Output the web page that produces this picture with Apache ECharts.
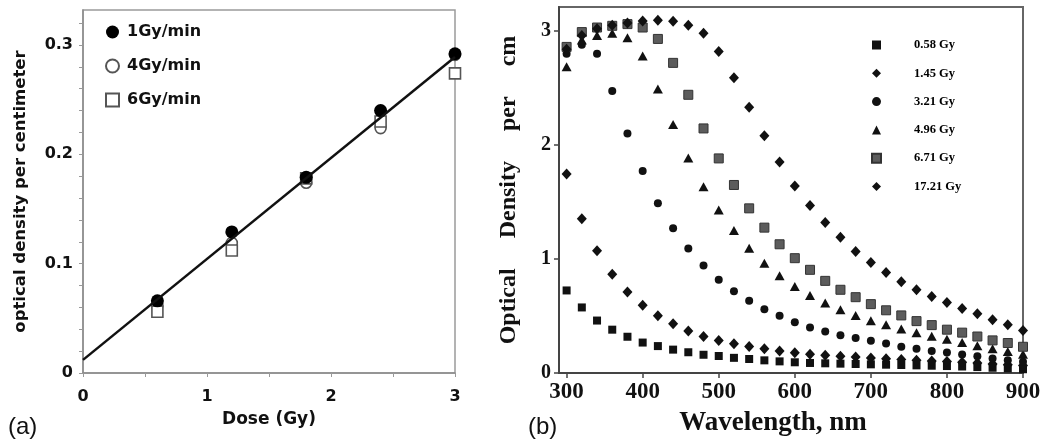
<!DOCTYPE html>
<html>
<head>
<meta charset="utf-8">
<script src="https://cdn.jsdelivr.net/npm/echarts@6/dist/echarts.min.js"></script>
<style>
html,body{margin:0;padding:0;background:#fff;}
#c{width:1050px;height:445px;}
</style>
</head>
<body>
<div id="c"></div>
<script>
// ---------- Panel (a) data ----------
const doseA = [0.6, 1.2, 1.8, 2.4, 3.0];
const od1Gy = [0.066, 0.129, 0.179, 0.240, 0.292];
const od4Gy = [0.062, 0.119, 0.174, 0.224, 0.291];
const od6Gy = [0.056, 0.112, 0.178, 0.230, 0.274];
const fitDose = [0, 3];
const fitOD = [0.012, 0.289];
const namesA = ['1Gy/min', '4Gy/min', '6Gy/min'];
const xTicksA = [0, 1, 2, 3];
const xMinorA = [0, 0.5, 1, 1.5, 2, 2.5, 3];
const yTicksA = [0, 0.1, 0.2, 0.3];
const yMinorA = [0, 0.02, 0.04, 0.06, 0.08, 0.1, 0.12, 0.14, 0.16, 0.18, 0.2, 0.22, 0.24, 0.26, 0.28, 0.3, 0.32];

// ---------- Panel (b) data ----------
const wavelength = [300, 320, 340, 360, 380, 400, 420, 440, 460, 480, 500, 520, 540, 560, 580, 600,
  620, 640, 660, 680, 700, 720, 740, 760, 780, 800, 820, 840, 860, 880, 900];
const g058 = [0.724, 0.575, 0.460, 0.380, 0.318, 0.267, 0.236, 0.205, 0.182, 0.160, 0.149, 0.133, 0.123, 0.111, 0.102, 0.094,
  0.088, 0.085, 0.082, 0.079, 0.076, 0.073, 0.070, 0.067, 0.064, 0.061, 0.057, 0.052, 0.046, 0.040, 0.033];
const g145 = [1.745, 1.352, 1.073, 0.865, 0.710, 0.595, 0.502, 0.431, 0.368, 0.321, 0.286, 0.256, 0.233, 0.212, 0.193, 0.178,
  0.165, 0.155, 0.147, 0.140, 0.132, 0.125, 0.118, 0.112, 0.106, 0.100, 0.094, 0.088, 0.080, 0.072, 0.065];
const g321 = [2.80, 2.88, 2.80, 2.474, 2.10, 1.771, 1.488, 1.269, 1.091, 0.943, 0.817, 0.718, 0.633, 0.560, 0.502, 0.446,
  0.400, 0.365, 0.330, 0.306, 0.283, 0.258, 0.230, 0.212, 0.194, 0.180, 0.162, 0.146, 0.128, 0.112, 0.098];
const g496 = [2.685, 2.92, 2.96, 2.98, 2.94, 2.78, 2.49, 2.18, 1.885, 1.634, 1.43, 1.249, 1.094, 0.963, 0.852, 0.759,
  0.680, 0.613, 0.554, 0.505, 0.458, 0.423, 0.385, 0.352, 0.322, 0.296, 0.268, 0.240, 0.213, 0.188, 0.165];
const g671 = [2.86, 2.99, 3.03, 3.045, 3.06, 3.03, 2.93, 2.72, 2.44, 2.145, 1.882, 1.649, 1.444, 1.275, 1.129, 1.007,
  0.905, 0.808, 0.730, 0.665, 0.604, 0.550, 0.505, 0.455, 0.420, 0.380, 0.354, 0.320, 0.286, 0.263, 0.230];
const g1721 = [2.84, 2.96, 3.02, 3.05, 3.07, 3.087, 3.093, 3.084, 3.05, 2.98, 2.82, 2.59, 2.33, 2.08, 1.85, 1.64,
  1.47, 1.32, 1.19, 1.065, 0.969, 0.881, 0.800, 0.730, 0.672, 0.618, 0.565, 0.520, 0.467, 0.424, 0.373];
const namesB = ['0.58 Gy', '1.45 Gy', '3.21 Gy', '4.96 Gy', '6.71 Gy', '17.21 Gy'];
const xTicksB = [300, 400, 500, 600, 700, 800, 900];
const yTicksB = [0, 1, 2, 3];

function zip(xs, ys) { return xs.map((x, i) => [x, ys[i]]); }

const sansA = 'DejaVu Sans';
const serifB = 'Liberation Serif';

const chart = echarts.init(document.getElementById('c'), null, {renderer: 'canvas'});

const axisCommonA = {
  axisLine: {show: true, lineStyle: {color: '#8c8c8c', width: 1.5}},
  splitLine: {show: false},
  axisLabel: {fontFamily: sansA, fontWeight: 'bold', fontSize: 16, color: '#111'},
  nameTextStyle: {fontFamily: sansA, fontWeight: 'bold', color: '#111'}
};
const axisCommonB = {
  axisLine: {show: true, lineStyle: {color: '#444', width: 2}},
  splitLine: {show: false},
  axisLabel: {fontFamily: serifB, fontWeight: 'bold', color: '#111'},
  nameTextStyle: {fontFamily: serifB, fontWeight: 'bold', color: '#111'}
};

const symBlack = {color: '#111', opacity: 1};

const option = {
  animation: false,
  backgroundColor: '#fff',
  grid: [
    {left: 83, top: 10, width: 372, height: 363, show: true, borderColor: '#9a9a9a', borderWidth: 1.5},
    {left: 559, top: 7, width: 464, height: 366, show: true, borderColor: '#666', borderWidth: 2}
  ],
  xAxis: [
    {
      type: 'value', gridIndex: 0, min: 0, max: 3,
      axisLine: axisCommonA.axisLine, splitLine: axisCommonA.splitLine,
      axisTick: {show: true, length: 4, customValues: xMinorA, lineStyle: {color: '#999'}},
      axisLabel: Object.assign({}, axisCommonA.axisLabel, {customValues: xTicksA, margin: 16}),
      name: 'Dose (Gy)', nameLocation: 'middle', nameGap: 38,
      nameTextStyle: Object.assign({}, axisCommonA.nameTextStyle, {fontSize: 17})
    },
    {
      type: 'value', gridIndex: 1, min: 290, max: 900,
      axisLine: axisCommonB.axisLine, splitLine: axisCommonB.splitLine,
      axisTick: {show: true, length: 5, customValues: xTicksB, lineStyle: {color: '#444', width: 1.5}},
      axisLabel: Object.assign({}, axisCommonB.axisLabel, {customValues: xTicksB, fontSize: 23, margin: 8})
    }
  ],
  yAxis: [
    {
      type: 'value', gridIndex: 0, min: 0, max: 0.332,
      axisLine: axisCommonA.axisLine, splitLine: axisCommonA.splitLine,
      axisTick: {show: true, length: 4, customValues: yMinorA, lineStyle: {color: '#999'}},
      axisLabel: Object.assign({}, axisCommonA.axisLabel, {customValues: yTicksA, margin: 10}),
      name: 'optical density per centimeter', nameLocation: 'middle', nameGap: 54,
      nameTextStyle: Object.assign({}, axisCommonA.nameTextStyle, {fontSize: 16.5})
    },
    {
      type: 'value', gridIndex: 1, min: 0, max: 3.21,
      axisLine: axisCommonB.axisLine, splitLine: axisCommonB.splitLine,
      axisTick: {show: true, length: 5, customValues: yTicksB, lineStyle: {color: '#444', width: 1.5}},
      axisLabel: Object.assign({}, axisCommonB.axisLabel, {customValues: yTicksB, fontSize: 20, margin: 8}),
      name: 'Optical     Density     per     cm', nameLocation: 'middle', nameGap: 38,
      nameTextStyle: Object.assign({}, axisCommonB.nameTextStyle, {fontSize: 24})
    }
  ],
  legend: [
    {
      data: namesA, orient: 'vertical', left: 100, top: 18,
      itemWidth: 13, itemHeight: 13, itemGap: 16,
      textStyle: {fontFamily: sansA, fontWeight: 'bold', fontSize: 16, color: '#111', lineHeight: 18, padding: [0, 0, 0, 3]},
      selectedMode: false
    },
    {
      data: namesB, orient: 'vertical', left: 866, top: 33,
      itemWidth: 9, itemHeight: 9, itemGap: 14.3,
      textStyle: {fontFamily: serifB, fontWeight: 'bold', fontSize: 12.5, color: '#000', lineHeight: 14, padding: [0, 0, 0, 28]},
      selectedMode: false
    }
  ],
  graphic: [
    {type: 'text', left: 8, top: 415, style: {text: '(a)', font: '24px "Liberation Sans"', fill: '#111'}},
    {type: 'text', left: 528, top: 415, style: {text: '(b)', font: '24px "Liberation Sans"', fill: '#111'}},
    {type: 'text', x: 773, y: 423, style: {text: 'Wavelength, nm', font: 'bold 27px "Liberation Serif"', fill: '#111', align: 'center', verticalAlign: 'middle'}}
  ],
  series: [
    {
      name: '4Gy/min', type: 'scatter', xAxisIndex: 0, yAxisIndex: 0,
      symbol: 'circle', symbolSize: 11, data: zip(doseA, od4Gy),
      itemStyle: {color: '#fff', borderColor: '#555', borderWidth: 1.6, opacity: 1}
    },
    {
      name: '6Gy/min', type: 'scatter', xAxisIndex: 0, yAxisIndex: 0,
      symbol: 'rect', symbolSize: 11, data: zip(doseA, od6Gy),
      itemStyle: {color: '#fff', borderColor: '#555', borderWidth: 1.6, opacity: 1}
    },
    {
      name: 'fit', type: 'line', xAxisIndex: 0, yAxisIndex: 0,
      data: zip(fitDose, fitOD), symbol: 'none', silent: true,
      lineStyle: {color: '#111', width: 2.5}
    },
    {
      name: '1Gy/min', type: 'scatter', xAxisIndex: 0, yAxisIndex: 0,
      symbol: 'circle', symbolSize: 13, data: zip(doseA, od1Gy),
      itemStyle: {color: '#000', opacity: 1}
    },
    {
      name: '0.58 Gy', type: 'scatter', xAxisIndex: 1, yAxisIndex: 1,
      symbol: 'rect', symbolSize: 8, data: zip(wavelength, g058), itemStyle: symBlack
    },
    {
      name: '1.45 Gy', type: 'scatter', xAxisIndex: 1, yAxisIndex: 1,
      symbol: 'diamond', symbolSize: [10, 11], data: zip(wavelength, g145), itemStyle: symBlack
    },
    {
      name: '3.21 Gy', type: 'scatter', xAxisIndex: 1, yAxisIndex: 1,
      symbol: 'circle', symbolSize: 8, data: zip(wavelength, g321), itemStyle: symBlack
    },
    {
      name: '4.96 Gy', type: 'scatter', xAxisIndex: 1, yAxisIndex: 1,
      symbol: 'triangle', symbolSize: [10, 9], data: zip(wavelength, g496), itemStyle: symBlack
    },
    {
      name: '6.71 Gy', type: 'scatter', xAxisIndex: 1, yAxisIndex: 1,
      symbol: 'rect', symbolSize: 9, data: zip(wavelength, g671),
      itemStyle: {color: '#5c5c5c', borderColor: '#333', borderWidth: 1, opacity: 1}
    },
    {
      name: '17.21 Gy', type: 'scatter', xAxisIndex: 1, yAxisIndex: 1,
      symbol: 'diamond', symbolSize: [10, 11], data: zip(wavelength, g1721), itemStyle: symBlack
    }
  ]
};
chart.setOption(option);
</script>
</body>
</html>
